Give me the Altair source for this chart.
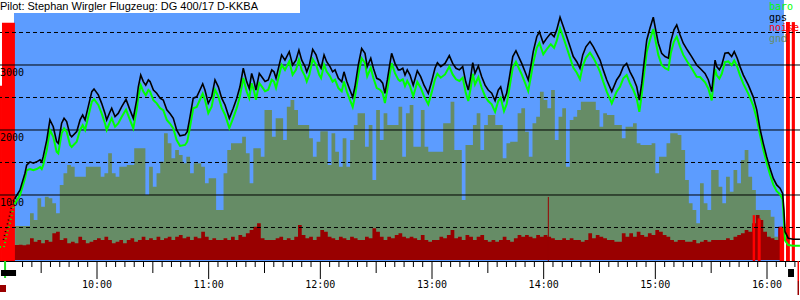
import altair as alt
import pandas as pd

# ---------------- data (time = minutes after 09:00, altitude in metres) -------------
T_START, T_END = 7.88, 437.73
TAKEOFF, LANDING = 15.4, 429.1

gps_t = [15.9, 18.6, 21.3, 22.2, 24.0, 25.8, 27.6, 29.4, 30.3, 31.1, 33.0, 34.7, 36.5, 38.3, 39.2,
         41.0, 42.3, 43.7, 45.5, 46.4, 49.1, 50.9, 52.3, 53.6, 55.3, 57.2, 58.4, 60.7, 62.5, 64.3,
         65.2, 67.0, 67.9, 69.7, 71.4, 73.3, 75.6, 77.7, 79.5, 81.3, 82.2, 83.5, 84.9, 86.2, 87.6,
         88.5, 90.3, 92.1, 93.9, 95.6, 97.5, 99.2, 101.0, 102.8, 104.6, 107.3, 108.5, 110.0, 111.7, 113.6,
         115.3, 116.8, 118.0, 119.8, 121.6, 123.4, 125.2, 127.0, 128.8, 131.1, 133.2, 135.1, 136.8, 138.6,
         140.4, 141.8, 143.1, 144.4, 145.4, 147.2, 148.5, 150.3, 152.0, 153.9, 155.1, 156.2, 157.9, 159.2,
         161.0, 163.3, 165.1, 166.9, 168.5, 170.0, 171.8, 172.7, 174.1, 175.9, 177.7, 179.4, 180.4, 182.0,
         183.4, 185.2, 186.6, 187.9, 189.7, 191.5, 192.7, 194.2, 195.9, 197.4, 198.6, 200.4, 202.2, 204.0,
         205.2, 207.1, 208.5, 210.3, 212.1, 213.5, 214.7, 216.0, 217.4, 218.3, 220.1, 221.9,
         222.8, 224.3, 225.5, 226.7, 228.2, 229.9, 232.1, 233.9, 235.7, 238.0, 239.8, 241.6, 242.9, 244.7,
         247.0, 249.3, 251.1, 252.9, 254.7, 256.5, 258.1, 259.5, 260.8, 261.9, 263.1, 264.9, 266.7, 268.5,
         270.2, 272.1, 273.9, 275.6, 276.9, 278.7, 280.1, 281.5, 283.4, 285.1, 286.9, 288.2, 290.0, 291.7,
         293.2, 294.4, 296.3, 297.7, 299.8, 301.6, 303.8, 305.6, 307.0, 308.8, 310.6, 312.4, 314.2, 315.9,
         317.8, 319.5, 321.0, 322.7, 324.9, 326.7, 328.5,
         330.3, 332.0, 333.9, 336.6, 339.2, 341.0, 342.8, 344.6, 346.4, 348.2, 350.0, 351.4, 352.7, 353.9,
         355.4, 357.1, 358.9, 360.4, 361.6, 363.4, 365.2, 367.0, 368.3, 370.0, 371.5, 373.3, 375.0, 377.2,
         379.5, 382.2, 384.0, 386.7, 388.5, 390.3, 392.1, 393.0, 394.4, 395.7, 397.4, 399.2, 401.0, 402.4,
         404.0, 405.5, 407.3, 410.0, 412.6, 414.5, 416.2, 418.0, 419.8, 421.6, 423.4, 425.2, 427.0, 428.4,
         429.1, 429.7, 431.4, 434.1, 437.7]

gps_alt = [950, 1075, 1335, 1460, 1510, 1490, 1510, 1540, 1510, 1590, 1845, 2155, 2050, 1820, 1795,
           2105, 2180, 2130, 1925, 1895, 1975, 2155, 2230, 2155, 2360, 2590, 2630, 2540, 2410, 2255,
           2155, 2280, 2335, 2205, 2255, 2360, 2470, 2310, 2180, 2460, 2665, 2845, 2745, 2690, 2770,
           2745, 2615, 2565, 2490, 2460, 2310, 2255, 2180, 2000, 1910, 1925, 1975, 2205, 2490, 2510,
           2615, 2710, 2615, 2410, 2510, 2770, 2665, 2490, 2385, 2180, 2335, 2490, 2665, 2950,
           2745, 2640, 2870, 2745, 2615, 2870, 2820, 2745, 2770, 2925, 2895, 2795, 3000, 3155,
           3075, 3205, 3000, 3075, 3230, 3075, 2975, 2895, 3000, 3240, 3155, 3000, 2950, 3155,
           3050, 2975, 2895, 2925, 2795, 2745, 2895, 2745, 2615, 2505, 2665, 3000, 3255, 3180,
           2975, 3105, 2950, 2795, 2770, 2720, 2565, 2770, 3025, 3180, 3025, 2925,
           2925, 2950, 2845, 2925, 2845, 2690, 2910, 2820, 2690, 2565, 2745, 2950, 3035, 2975,
           3025, 3145, 3025, 2950, 2925, 2975, 2745, 2615, 2820, 3035, 2870, 2985, 2820, 2690,
           2615, 2565, 2450, 2615, 2665, 2460, 2565, 2795, 3130, 3220, 3105, 3025, 2895, 2770,
           3000, 3205, 3435, 3510, 3335, 3410, 3490, 3435, 3540, 3735, 3590, 3435, 3280, 3130,
           3050, 2950, 3155, 3280, 3360, 3280, 3180,
           3075, 2925, 2770, 2590, 2770, 2845, 2975, 3025, 2895, 2795, 2665, 2460, 2720, 3025,
           3385, 3565, 3735, 3510, 3335, 3180, 3130, 3105, 3360, 3540, 3615, 3460, 3335, 3230,
           3130, 3000, 2950, 2870, 2770, 2590, 3075, 2975, 2925, 3000, 3180, 3190, 3130, 3205,
           3105, 2975, 2845, 2690, 2510, 2310, 2025, 1795, 1590, 1410, 1255, 1155, 1105, 1025,
           770, 435, 335, 320, 320]

baro_alt = [870, 995, 1255, 1380, 1400, 1380, 1400, 1430, 1400, 1460, 1690, 2000, 1895, 1665, 1640,
            1950, 2025, 1975, 1770, 1740, 1820, 2000, 2075, 2000, 2205, 2435, 2475, 2385, 2255, 2100,
            2000, 2125, 2180, 2050, 2100, 2205, 2315, 2155, 2025, 2305, 2510, 2690, 2590, 2535, 2615,
            2590, 2460, 2410, 2335, 2305, 2155, 2100, 2025, 1845, 1755, 1770, 1820, 2050, 2335, 2355,
            2465, 2560, 2465, 2260, 2360, 2620, 2515, 2340, 2235, 2030, 2185, 2340, 2515, 2800,
            2595, 2490, 2720, 2595, 2465, 2720, 2670, 2595, 2620, 2775, 2745, 2645, 2850, 3005,
            2925, 3055, 2850, 2925, 3080, 2925, 2825, 2745, 2850, 3090, 3005, 2850, 2800, 3005,
            2900, 2825, 2745, 2775, 2645, 2595, 2745, 2595, 2465, 2355, 2515, 2850, 3105, 3030,
            2825, 2955, 2800, 2645, 2620, 2570, 2415, 2620, 2875, 3030, 2875, 2775,
            2755, 2780, 2675, 2755, 2675, 2520, 2740, 2650, 2520, 2395, 2575, 2780, 2865, 2805,
            2855, 2975, 2855, 2780, 2755, 2805, 2575, 2445, 2650, 2865, 2700, 2815, 2650, 2520,
            2445, 2395, 2280, 2445, 2495, 2290, 2395, 2625, 2960, 3050, 2935, 2855, 2725, 2600,
            2830, 3035, 3265, 3340, 3165, 3240, 3320, 3265, 3370, 3565, 3420, 3265, 3110, 2960,
            2880, 2780, 2985, 3110, 3190, 3110, 3010,
            2895, 2745, 2590, 2410, 2590, 2665, 2795, 2845, 2715, 2615, 2485, 2280, 2540, 2845,
            3205, 3385, 3555, 3330, 3155, 3000, 2950, 2925, 3180, 3360, 3435, 3280, 3155, 3050,
            2950, 2820, 2815, 2735, 2635, 2455, 2940, 2840, 2790, 2865, 3045, 3055, 2995, 3070,
            2970, 2840, 2710, 2555, 2375, 2175, 1930, 1700, 1495, 1315, 1160, 1060, 1010, 930,
            600, 300, 230, 220, 220]

# launch (sparse fixes, drawn dotted)
launch_gps_t = [9.7, 11.5, 13.3, 14.3, 15.9]
launch_gps = [310, 510, 715, 875, 950]
launch_baro_t = [7.9, 10.0, 10.6, 11.8, 13.3, 15.0, 15.9]
launch_baro = [200, 200, 270, 420, 580, 800, 870]

# 'gnd' and 'noise' sampled every 2 minutes from 09:16
SAMPLE_T0, SAMPLE_STEP = 16.0, 2.0
gnd = [523, 523, 523, 523, 718, 615, 949, 820, 974, 949,
       872, 718, 1154, 1333, 1462, 1436, 1282, 1282, 1282, 1436,
       1436, 1436, 1436, 1282, 1333, 1641, 1333, 1282, 1436, 1436,
       1462, 1462, 1718, 1718, 1718, 1000, 1436, 1128, 1333, 1513,
       1949, 1795, 1564, 1692, 1615, 1487, 1590, 1333, 1487, 1487,
       1436, 1179, 1256, 1256, 769, 769, 1333, 1692, 1795, 1795,
       1795, 1897, 1641, 1179, 1718, 1718, 1590, 2308, 2308, 1897,
       2179, 2179, 1846, 2359, 2461, 2308, 2077, 2077, 2077, 1872,
       1590, 1820, 1980, 1980, 1462, 1949, 1667, 1436, 1872, 1436,
       1846, 2077, 2256, 2256, 1743, 2077, 1231, 2308, 1846, 2256,
       2077, 2077, 2077, 2359,
       1590, 2256, 2385, 1743, 1743, 2308, 1743, 1667, 1667, 1667,
       1667, 2103, 2103, 2436, 1692, 1692, 923, 1769, 1769, 2077,
       2256, 1692, 2077, 2231, 2231, 2077, 2077, 1564, 1795, 1820,
       1820, 2256, 2333, 1974, 1590, 2103, 2205, 2590, 2461, 2333,
       2615, 1846, 2205, 2333, 1436, 2154, 2205, 2308, 2436, 2436,
       2436, 2436, 2308, 2051,
       2256, 2231, 2231, 2077, 2077, 1872, 2051, 2051, 2103, 1795,
       1769, 1769, 1769, 1795, 1333, 1590, 1590, 1795, 1949, 1949,
       1923, 1692, 1231, 872, 769, 564, 1180, 872, 769, 1385,
       1385, 1128, 872, 1282, 1051, 1385, 1180, 1538, 1692, 1282,
       1077, 769, 769, 769, 769, 667, 359, 256, 256]

noise = [230, 235, 225, 240, 333, 282, 308, 256, 308, 282,
         410, 436, 308, 333, 256, 282, 256, 359, 308, 256,
         282, 308, 333, 308, 359, 308, 256, 282, 308, 256,
         308, 333, 282, 308, 359, 308, 333, 308, 359, 308,
         333, 359, 308, 359, 385, 333, 359, 308, 359, 333,
         436, 359, 308, 333, 308, 308, 333, 308, 359, 308,
         385, 359, 410, 461, 513, 564, 333, 308, 308, 308,
         333, 359, 308, 333, 308, 359, 538, 385, 333, 359,
         308, 359, 461, 436, 359, 333, 308, 359, 333, 308,
         359, 333, 308, 308, 359, 333, 487, 436, 359, 308,
         359, 333, 385, 410,
         359, 333, 359, 333, 308, 385, 308, 282, 308, 308,
         359, 333, 385, 461, 333, 359, 308, 385, 359, 308,
         359, 385, 308, 282, 308, 282, 308, 359, 308, 282,
         333, 385, 359, 385, 359, 333, 385, 359, 385, 359,
         333, 308, 308, 333, 308, 333, 308, 308, 282, 308,
         410, 333, 385, 359,
         333, 308, 308, 282, 282, 410, 359, 410, 359, 436,
         385, 359, 410, 385, 461, 436, 385, 359, 308, 282,
         308, 308, 282, 282, 308, 256, 282, 308, 282, 308,
         308, 308, 308, 333, 308, 359, 385, 410, 461, 436,
         564, 692, 615, 436, 359, 333, 308, 513, 513]

# loud noise (engine) segments
loud_t0 = [7.88, 8.95, 412.3, 415.0, 426.8, 430.2, 433.3]
loud_t1 = [8.95, 15.9, 413.6, 416.6, 429.2, 432.3, 435.0]
loud_top = [2680, 3650, 690, 640, 510, 3660, 3660]

spike_t = [302.5]
spike_alt = [970]

grid_solid = [1000, 2000, 3000]
grid_dash = [500, 1500, 2500, 3500]

hour_ticks = [60, 120, 180, 240, 300, 360, 420]            # 10:00 ... 16:00
hour_labels = ["10:00", "11:00", "12:00", "13:00", "14:00", "15:00", "16:00"]
half_ticks = [30, 90, 150, 210, 270, 330, 390]
five_ticks = [t for t in range(20, 436, 5) if t % 30 != 0]

title_text = "Pilot: Stephan Wirgler Flugzeug: DG 400/17 D-KKBA"
legend_names = ["baro", "gps", "noise", "gnd"]

# ---------------- styling -------------
W, H = 800, 261
BLUE = "#5c9cff"
GND = "#668c66"
DARKRED = "#990000"
RED = "#ff0000"
GREEN = "#00ff00"
MONO = "DejaVu Sans Mono"

xs = alt.Scale(domain=[T_START, T_END], nice=False, zero=False)
ys = alt.Scale(domain=[-15.4, 4000], nice=False, zero=False)

def X(f="t"):
    return alt.X(f"{f}:Q", scale=xs, axis=None)

def Y(f="v"):
    return alt.Y(f"{f}:Q", scale=ys, axis=None)

n = len(gnd)
samp_t = [SAMPLE_T0 + SAMPLE_STEP * i for i in range(n)]
gnd_df = pd.DataFrame({"t": samp_t + [LANDING], "v": gnd + [gnd[-1]]})
noise_df = pd.DataFrame({"t": [TAKEOFF] + samp_t + [LANDING], "v": [noise[0]] + noise + [noise[-1]]})

bg = alt.Chart(pd.DataFrame({"t": [TAKEOFF], "t2": [LANDING]})).mark_rect(color=BLUE).encode(
    x=X(), x2="t2:Q", y=alt.value(0), y2=alt.value(H))

gnd_layer = alt.Chart(gnd_df).mark_area(interpolate="step-after", color=GND).encode(
    x=X(), y=Y(), y2=alt.value(H))
noise_layer = alt.Chart(noise_df).mark_area(interpolate="step-after", color=DARKRED).encode(
    x=X(), y=Y(), y2=alt.value(H))
loud_layer = alt.Chart(pd.DataFrame({"t": loud_t0, "t2": loud_t1, "v": loud_top})).mark_rect(color=RED).encode(
    x=X(), x2="t2:Q", y=Y(), y2=alt.value(H))
spike_layer = alt.Chart(pd.DataFrame({"t": spike_t, "v": spike_alt})).mark_rule(color=DARKRED, strokeWidth=1).encode(
    x=X(), y=Y(), y2=alt.value(H))

grid1 = alt.Chart(pd.DataFrame({"v": grid_solid})).mark_rule(color="black", strokeWidth=1).encode(y=Y())
grid2 = alt.Chart(pd.DataFrame({"v": grid_dash})).mark_rule(color="black", strokeWidth=1, strokeDash=[4, 3]).encode(y=Y())
ylab = alt.Chart(pd.DataFrame({"v": grid_solid, "s": [str(v) for v in grid_solid]})).mark_text(
    align="left", baseline="top", dy=3, font=MONO, fontSize=10, color="black").encode(
    x=alt.value(0), y=Y(), text="s:N")

baro_line = alt.Chart(pd.DataFrame({"t": gps_t, "v": baro_alt})).mark_line(color=GREEN, strokeWidth=2).encode(x=X(), y=Y())
gps_line = alt.Chart(pd.DataFrame({"t": gps_t, "v": gps_alt})).mark_line(color="black", strokeWidth=1.6).encode(x=X(), y=Y())
baro_launch = alt.Chart(pd.DataFrame({"t": launch_baro_t, "v": launch_baro})).mark_line(
    color=GREEN, strokeWidth=2, strokeDash=[1, 3]).encode(x=X(), y=Y())
gps_launch = alt.Chart(pd.DataFrame({"t": launch_gps_t, "v": launch_gps})).mark_line(
    color="black", strokeWidth=1.6, strokeDash=[1, 3]).encode(x=X(), y=Y())

# x axis drawn with rules and text through the time scale
axis_line = alt.Chart(pd.DataFrame({"t": [T_START], "t2": [T_END]})).mark_rule(color="black", strokeWidth=1).encode(
    x=X(), x2="t2:Q", y=alt.value(H + 0.5))
hour_layer = alt.Chart(pd.DataFrame({"t": hour_ticks})).mark_rule(color="black", strokeWidth=1).encode(
    x=X(), y=alt.value(H), y2=alt.value(H + 18))
half_layer = alt.Chart(pd.DataFrame({"t": half_ticks})).mark_rule(color="black", strokeWidth=1).encode(
    x=X(), y=alt.value(H), y2=alt.value(H + 12))
five_layer = alt.Chart(pd.DataFrame({"t": five_ticks})).mark_rule(color="black", strokeWidth=1).encode(
    x=X(), y=alt.value(H), y2=alt.value(H + 6))
hour_text = alt.Chart(pd.DataFrame({"t": hour_ticks, "s": hour_labels})).mark_text(
    align="center", baseline="middle", font=MONO, fontSize=10, color="black").encode(
    x=X(), y=alt.value(H + 24), text="s:N")

# flight event markers below the axis
mk_green = alt.Chart(pd.DataFrame({"t": [10.6]})).mark_rule(color="#22dd22", strokeWidth=2).encode(
    x=X(), y=alt.value(H), y2=alt.value(H + 17))
mk_black1 = alt.Chart(pd.DataFrame({"t": [8.4], "t2": [16.5]})).mark_rect(color="black").encode(
    x=X(), x2="t2:Q", y=alt.value(H + 9), y2=alt.value(H + 15))
mk_dred = alt.Chart(pd.DataFrame({"t": [T_START], "t2": [11.1]})).mark_rect(color=DARKRED).encode(
    x=X(), x2="t2:Q", y=alt.value(H + 24), y2=alt.value(H + 31))
mk_black2 = alt.Chart(pd.DataFrame({"t": [431.3], "t2": [434.5]})).mark_rect(color="black").encode(
    x=X(), x2="t2:Q", y=alt.value(H + 8), y2=alt.value(H + 16))
mk_red = alt.Chart(pd.DataFrame({"t": [436.8]})).mark_rule(color=RED, strokeWidth=1.5).encode(
    x=X(), y=alt.value(H), y2=alt.value(H + 20))
mk_red2 = alt.Chart(pd.DataFrame({"t": [436.8]})).mark_rule(color=DARKRED, strokeWidth=1.5).encode(
    x=X(), y=alt.value(H + 20), y2=alt.value(H + 34))

title_box = alt.Chart(pd.DataFrame({"a": [0]})).mark_rect(color="white").encode(
    x=alt.value(0), x2=alt.value(300), y=alt.value(0), y2=alt.value(13))
title = alt.Chart(pd.DataFrame({"s": [title_text]})).mark_text(
    align="left", baseline="middle", font="Liberation Sans", fontSize=11, color="black").encode(
    x=alt.value(0), y=alt.value(7), text="s:N")

legend_colors = [GREEN, "black", RED, GND]
legend_layers = []
for i, (nm, col) in enumerate(zip(legend_names, legend_colors)):
    legend_layers.append(
        alt.Chart(pd.DataFrame({"s": [nm]})).mark_text(
            align="left", baseline="alphabetic", font=MONO, fontSize=10, color=col).encode(
            x=alt.value(769), y=alt.value(10 + 10.5 * i), text="s:N"))

chart = alt.layer(
    bg, gnd_layer, noise_layer, loud_layer, spike_layer, grid1, grid2, ylab,
    baro_launch, gps_launch, baro_line, gps_line,
    axis_line, hour_layer, half_layer, five_layer, hour_text,
    mk_green, mk_black1, mk_dred, mk_black2, mk_red, mk_red2,
    title_box, title, *legend_layers
).properties(
    width=W, height=H, padding={"left": 0, "top": 0, "right": 0, "bottom": 39},
    autosize=alt.AutoSizeParams(type="none"), background="white"
).configure_view(strokeWidth=0)

chart.save("out.html", embed_options={"renderer": "svg", "actions": False})
